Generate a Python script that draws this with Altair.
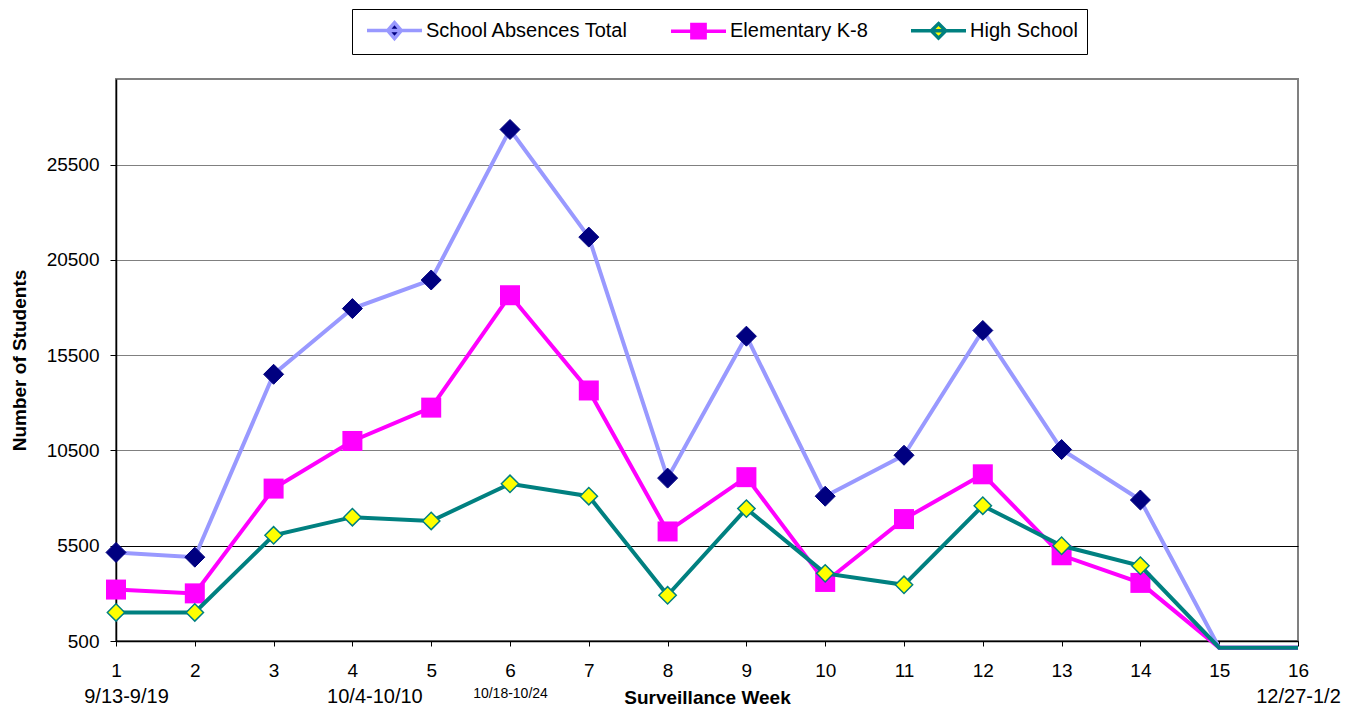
import altair as alt
import pandas as pd

# ---------------- data ----------------
weeks = list(range(1, 17))
series_names = ["School Absences Total", "Elementary K-8", "High School"]
total = [5150, 4900, 14500, 17950, 19450, 27350, 21700, 9050, 16500, 8100, 10250, 16800, 10550, 7900, 150, 150]
elementary = [3200, 3000, 8500, 11000, 12750, 18650, 13650, 6250, 9100, 3600, 6900, 9250, 5000, 3550, 150, 150]
high_school = [2000, 2000, 6050, 7000, 6800, 8750, 8100, 2900, 7450, 4050, 3450, 7600, 5500, 4450, 150, 150]
date_weeks = [1, 4, 6, 16]
date_labels = ["9/13-9/19", "10/4-10/10", "10/18-10/24", "12/27-1/2"]
y_ticks = [500, 5500, 10500, 15500, 20500, 25500]
last_marker_week = 14

# ---------------- styles ----------------
FONT = "Liberation Sans"
line_colors = ["#9999FF", "#FF00FF", "#008080"]
marker_fill = ["#000080", "#FF00FF", "#FFFF00"]
marker_stroke = ["#000080", "#FF00FF", "#008080"]
marker_shape = ["diamond", "square", "diamond"]
marker_size = [400, 400, 300]
marker_stroke_width = [1, 0, 1.5]
legend_paths = [
    "M-2.5,0H2.5M0,-0.72L0.62,0L0,0.72L-0.62,0Z",
    "M-2.5,0H2.5M-0.6,-0.6H0.6V0.6H-0.6Z",
    "M-2.5,0H2.5M0,-0.66L0.66,0L0,0.66L-0.66,0Z",
]
date_label_offsets = {1: 10, 4: 22}

series_values = [total, elementary, high_school]
rows = []
for name, vals in zip(series_names, series_values):
    for w, v in zip(weeks, vals):
        rows.append({"week": w, "series": name, "value": v})
df = pd.DataFrame(rows)


def pick_expr(keys, vals):
    expr = repr(vals[-1])
    for k, v in reversed(list(zip(keys[:-1], vals[:-1]))):
        expr = f"datum.value === {k!r} ? {v!r} : ({expr})"
    return expr


date_label_expr = pick_expr(date_weeks, date_labels)
offset_expr = "datum.value === 1 ? %d : (datum.value === 4 ? %d : 0)" % (
    date_label_offsets[1], date_label_offsets[4])

xscale = alt.Scale(domain=[1, 16], nice=False, zero=False)
yscale = alt.Scale(domain=[500, 30000], nice=False, zero=False)

main_x_axis = alt.Axis(
    values=[1 + 0.5 * i for i in range(31)],
    labelExpr="datum.value % 1 === 0 ? datum.label : ''",
    format="d",
    orient="bottom",
    grid=False,
    tickSize=5,
    tickWidth=1,
    labelPadding=15,
    labelFontSize=19,
    labelFlush=False,
    labelOverlap=False,
    labelBound=False,
    domainColor="black",
    domainWidth=1.5,
    title="Surveillance Week",
    titleFontSize=19,
    titleFontWeight="bold",
    titleY=47,
)

date_axis = alt.Axis(
    values=date_weeks,
    labelExpr=date_label_expr,
    orient="bottom",
    grid=False,
    ticks=False,
    tickSize=0,
    domain=False,
    labelPadding=45,
    labelFontSize={"condition": {"test": "datum.value === 6", "value": 14}, "value": 20},
    labelOffset=alt.ExprRef(expr=offset_expr),
    labelFlush=False,
    labelOverlap=False,
    labelBound=False,
    title=None,
)

y_axis = alt.Axis(
    values=y_ticks,
    format="d",
    title="Number of Students",
    titleFontSize=19,
    titleFontWeight="bold",
    titlePadding=17,
    labelFontSize=19,
    labelPadding=11,
    tickSize=6,
    domainColor="black",
    domainWidth=1.5,
    grid=True,
    gridColor={"condition": {"test": "datum.value === 5500", "value": "#000000"}, "value": "#808080"},
    gridWidth=1,
)

legend = alt.Legend(
    title=None,
    orient="none",
    legendX=236,
    legendY=-70,
    direction="horizontal",
    labelFontSize=20,
    labelFont=FONT,
    labelColor="black",
    labelLimit=400,
    symbolSize=484,
    symbolStrokeWidth=3.5,
    symbolType=alt.ExprRef(expr=pick_expr(series_names, legend_paths)),
    symbolFillColor=alt.ExprRef(expr=pick_expr(series_names, marker_fill)),
    symbolOffset=21,
    labelOffset=18.5,
    columnPadding=35,
    padding=8.5,
    strokeColor="#000000",
    fillColor="#FFFFFF",
)

color = alt.Color(
    "series:N",
    scale=alt.Scale(domain=series_names, range=line_colors),
    legend=legend,
)

layers = []
for i, name in enumerate(series_names):
    base = alt.Chart(df).transform_filter(alt.datum.series == name)
    line = base.mark_line(strokeWidth=4).encode(
        x=alt.X("week:Q", scale=xscale, axis=main_x_axis if i == 0 else None),
        y=alt.Y("value:Q", scale=yscale, axis=y_axis),
        color=color,
    )
    pts = base.transform_filter(alt.datum.week <= last_marker_week).mark_point(
        shape=marker_shape[i],
        size=marker_size[i],
        filled=True,
        fill=marker_fill[i],
        stroke=marker_stroke[i],
        strokeWidth=marker_stroke_width[i],
        opacity=1,
    ).encode(
        x=alt.X("week:Q", scale=xscale, axis=date_axis if i == 0 else None),
        y=alt.Y("value:Q", scale=yscale, axis=y_axis),
    )
    layers += [line, pts]

chart = (
    alt.layer(*layers)
    .resolve_scale(x="independent")
    .resolve_axis(x="independent")
    .properties(
        width=1182,
        height=562,
        autosize=alt.AutoSizeParams(type="none"),
        padding={"left": 108, "top": 71, "right": 47, "bottom": 69},
    )
    .configure(font=FONT)
    .configure_axis(labelColor="black", titleColor="black", tickColor="black",
                    labelFont=FONT, titleFont=FONT)
    .configure_view(stroke="#808080", strokeWidth=2)
)

chart.save("out.html", embed_options={"renderer": "svg", "actions": False})
